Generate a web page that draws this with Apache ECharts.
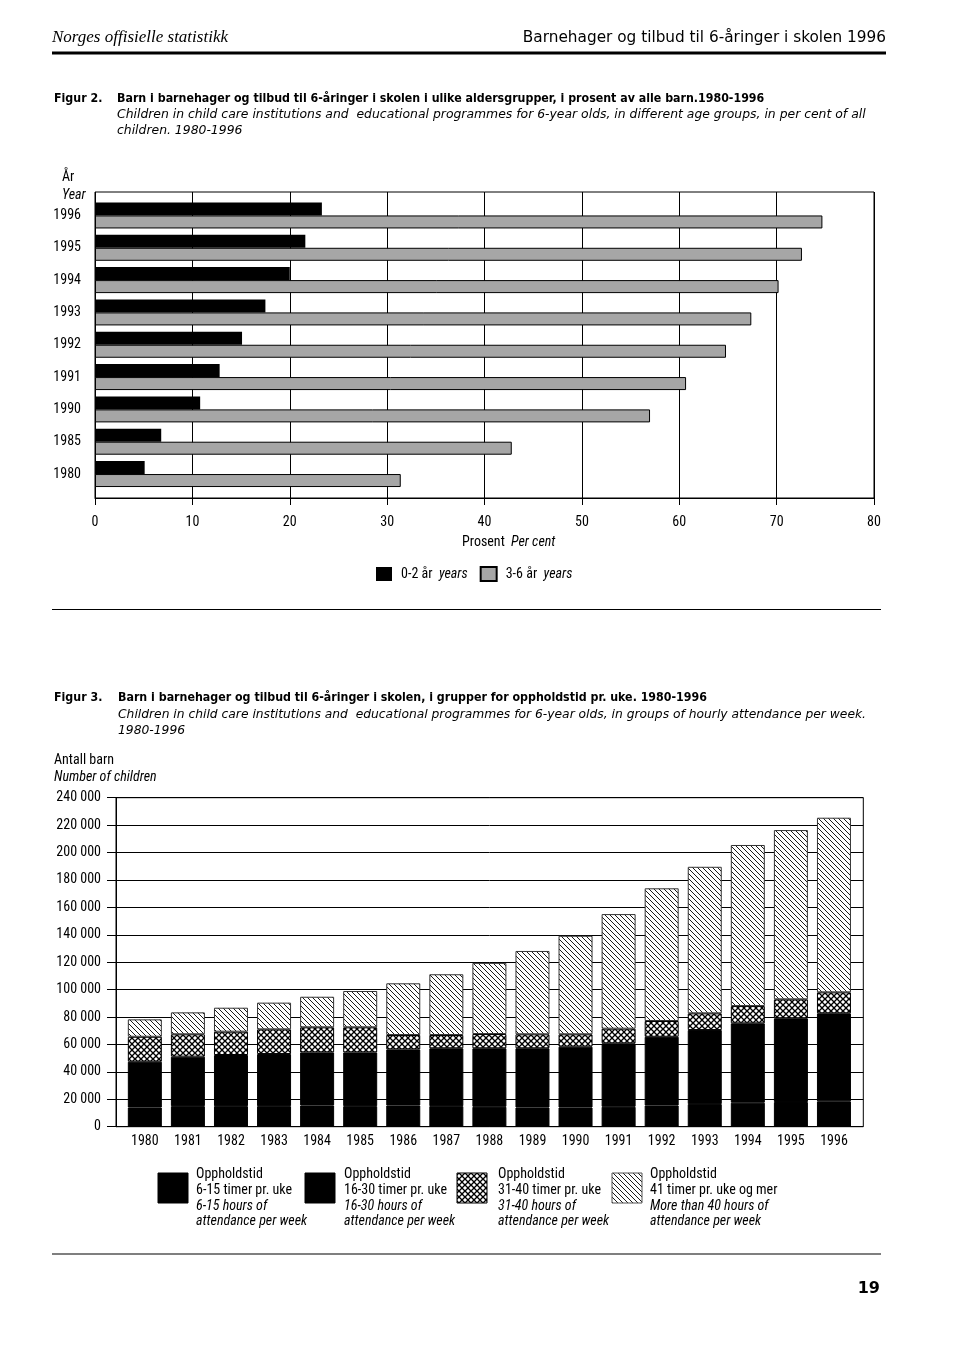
<!DOCTYPE html>
<html><head><meta charset="utf-8">
<script src="https://cdn.jsdelivr.net/npm/echarts@6/dist/echarts.min.js"></script>
<style>html,body{margin:0;padding:0;background:#fff}#c{width:960px;height:1357px}</style>
</head><body><div id="c"></div>
<script>
// ---- Figur 2 data ----
const fig2Years = ['1980', '1985', '1990', '1991', '1992', '1993', '1994', '1995', '1996'];
const fig2Age02 = [5.1, 6.8, 10.8, 12.8, 15.1, 17.5, 20.0, 21.6, 23.3];
const fig2Age36 = [31.4, 42.8, 57.0, 60.7, 64.8, 67.4, 70.2, 72.6, 74.7];
const fig2PctTicks = ['0', '10', '20', '30', '40', '50', '60', '70', '80'];

// ---- Figur 3 data ----
const fig3Years = ['1980','1981','1982','1983','1984','1985','1986','1987','1988','1989','1990','1991','1992','1993','1994','1995','1996'];
const fig3H6to15  = [14000,15000,15000,15000,15500,15000,15500,15000,14500,14000,14000,14500,15500,16500,17500,18000,18500];
const fig3H16to30 = [33400,36100,37300,38000,38700,39200,40900,42200,42700,43200,44400,46300,50100,54000,57900,61100,64200];
const fig3H31to40 = [18200,16300,17000,18000,18300,18300,10500,9700,10400,10200,9000,10700,11500,12200,12600,13800,15300];
const fig3H41plus = [12700,16000,17500,19500,22300,26500,37700,44300,51900,60800,71900,83600,96800,106900,117500,123500,127400];
const fig3CountTicks = ['0','20 000','40 000','60 000','80 000','100 000','120 000','140 000','160 000','180 000','200 000','220 000','240 000'];

const NARROW = "'Liberation Sans Narrow','Arial Narrow','Roboto Condensed',sans-serif";
const HUMAN = "'DejaVu Sans','Open Sans',sans-serif";
const COND = "'DejaVu Sans Condensed','DejaVu Sans',sans-serif";
const SERIF = "'Liberation Serif','DejaVu Serif',serif";

function hatchTile() {
  const s = 5, c = document.createElement('canvas'); c.width = s; c.height = s;
  const g = c.getContext('2d'); g.fillStyle = '#fff'; g.fillRect(0, 0, s, s);
  g.strokeStyle = '#1a1a1a'; g.lineWidth = 1;
  for (const o of [-s, 0, s]) { g.beginPath(); g.moveTo(o - 1, -1); g.lineTo(o + s + 1, s + 1); g.stroke(); }
  return c;
}
function crossTile() {
  const s = 6, c = document.createElement('canvas'); c.width = s; c.height = s;
  const g = c.getContext('2d'); g.fillStyle = '#fff'; g.fillRect(0, 0, s, s);
  g.strokeStyle = '#000'; g.lineWidth = 1.3;
  for (const o of [-s, 0, s]) {
    g.beginPath(); g.moveTo(o - 1, -1); g.lineTo(o + s + 1, s + 1); g.stroke();
    g.beginPath(); g.moveTo(o - 1, s + 1); g.lineTo(o + s + 1, -1); g.stroke();
  }
  return c;
}
const hatchFill = { image: hatchTile(), repeat: 'repeat' };
const crossFill = { image: crossTile(), repeat: 'repeat' };
const GRAY = '#a6a6a6';

function txt(text, x, y, font, align, extra) {
  return Object.assign({ type: 'text', silent: true, style: { text: text, x: x, y: y, font: font, fill: '#000', textAlign: align || 'left', textVerticalAlign: 'middle' } }, extra || {});
}
function hline(x1, x2, y, w) {
  return { type: 'line', silent: true, shape: { x1: x1, y1: y, x2: x2, y2: y }, style: { stroke: '#000', lineWidth: w } };
}

const legend3 = [
  { x: 158, tx: 196, fill: '#000', stroke: '#000', l2: '6-15 timer pr. uke', l3: '6-15 hours of', l4: 'attendance per week' },
  { x: 305, tx: 344, fill: '#000', stroke: '#000', l2: '16-30 timer pr. uke', l3: '16-30 hours of', l4: 'attendance per week' },
  { x: 457, tx: 498, fill: crossFill, stroke: '#000', l2: '31-40 timer pr. uke', l3: '31-40 hours of', l4: 'attendance per week' },
  { x: 612, tx: 650, fill: hatchFill, stroke: '#555', l2: '41 timer pr. uke og mer', l3: 'More than 40 hours of', l4: 'attendance per week' }
];

const graphics = [
  txt('Norges offisielle statistikk', 52, 38, 'italic 17px ' + SERIF),
  txt('Barnehager og tilbud til 6-åringer i skolen 1996', 886, 38, '15.3px ' + HUMAN, 'right'),
  hline(52, 886, 53, 3),
  txt('Figur 2.', 54, 99, 'bold 12.3px ' + COND),
  txt('Barn i barnehager og tilbud til 6-åringer i skolen i ulike aldersgrupper, i prosent av alle barn.1980-1996', 117, 99, 'bold 12.3px ' + COND),
  txt('Children in child care institutions and  educational programmes for 6-year olds, in different age groups, in per cent of all', 117, 115, 'italic 12.4px ' + HUMAN),
  txt('children. 1980-1996', 117, 131, 'italic 12.4px ' + HUMAN),
  txt('År', 62, 177, '14px ' + NARROW),
  txt('Year', 62, 195, 'italic 14px ' + NARROW),
  txt('Prosent', 462, 542, '14px ' + NARROW),
  txt('Per cent', 511, 542, 'italic 14px ' + NARROW),
  hline(52, 881, 609.5, 1.2),
  txt('Figur 3.', 54, 698, 'bold 12.3px ' + COND),
  txt('Barn i barnehager og tilbud til 6-åringer i skolen, i grupper for oppholdstid pr. uke. 1980-1996', 118, 698, 'bold 12.3px ' + COND),
  txt('Children in child care institutions and  educational programmes for 6-year olds, in groups of hourly attendance per week.', 118, 715, 'italic 12.3px ' + HUMAN),
  txt('1980-1996', 118, 731, 'italic 12.3px ' + HUMAN),
  txt('Antall barn', 54, 760, '14px ' + NARROW),
  txt('Number of children', 54, 777, 'italic 14px ' + NARROW),
  hline(52, 881, 1254, 1.2),
  txt('19', 880, 1289, 'bold 16px ' + HUMAN, 'right')
];
legend3.forEach(function (it) {
  graphics.push({ type: 'rect', silent: true, shape: { x: it.x, y: 1173, width: 30, height: 30 }, style: { fill: it.fill, stroke: it.stroke, lineWidth: 1 } });
  graphics.push(txt('Oppholdstid', it.tx, 1174, '14px ' + NARROW));
  graphics.push(txt(it.l2, it.tx, 1190, '14px ' + NARROW));
  graphics.push(txt(it.l3, it.tx, 1206, 'italic 14px ' + NARROW));
  graphics.push(txt(it.l4, it.tx, 1221, 'italic 14px ' + NARROW));
});

const black = { color: '#000' };
const blackStack = { color: '#000', borderColor: '#000', borderWidth: 1 };
const option = {
  animation: false,
  backgroundColor: '#fff',
  textStyle: { fontFamily: NARROW },
  grid: [
    { left: 95, top: 192, width: 779, height: 306, show: true, borderColor: '#000', borderWidth: 1 },
    { left: 95, top: 199.3, width: 779, height: 290.9 },
    { left: 116, top: 797.7, width: 747.3, height: 329, show: true, borderColor: '#000', borderWidth: 1 },
    { left: 123.3, top: 797.7, width: 732.2, height: 329 }
  ],
  xAxis: [
    { gridIndex: 0, type: 'value', min: 0, max: 80, interval: 10,
      axisLine: { show: true, lineStyle: { color: '#000' } },
      axisTick: { show: true, length: 7, lineStyle: { color: '#000' } },
      splitLine: { show: true, lineStyle: { color: '#000', width: 1 } },
      axisLabel: { margin: 17, color: '#000', fontFamily: NARROW, fontSize: 14, formatter: function (v) { return fig2PctTicks[Math.round(v / 10)]; } } },
    { gridIndex: 1, type: 'value', min: 0, max: 80, show: false },
    { gridIndex: 2, type: 'category', data: fig3Years, show: false },
    { gridIndex: 3, type: 'category', data: fig3Years,
      axisLine: { show: false }, axisTick: { show: false },
      axisLabel: { margin: 8, color: '#000', fontFamily: NARROW, fontSize: 14 } }
  ],
  yAxis: [
    { gridIndex: 0, type: 'value', min: 0, max: 1, show: false },
    { gridIndex: 1, type: 'category', data: fig2Years,
      axisLine: { show: false }, axisTick: { show: false },
      axisLabel: { margin: 14, color: '#000', fontFamily: NARROW, fontSize: 14 } },
    { gridIndex: 2, type: 'value', min: 0, max: 240000, interval: 20000,
      axisLine: { show: true, lineStyle: { color: '#000' } },
      axisTick: { show: true, length: 9, lineStyle: { color: '#000' } },
      splitLine: { show: true, lineStyle: { color: '#000', width: 1 } },
      axisLabel: { margin: 15, color: '#000', fontFamily: NARROW, fontSize: 14, formatter: function (v) { return fig3CountTicks[Math.round(v / 20000)]; } } },
    { gridIndex: 3, type: 'value', min: 0, max: 240000, show: false }
  ],
  legend: [{
    data: ['0-2 år', '3-6 år'], left: 376, top: 566, orient: 'horizontal', padding: 0,
    itemWidth: 16, itemHeight: 14, itemGap: 12, icon: 'rect',
    formatter: function (n) { return n + '  {i|years}'; },
    textStyle: { color: '#000', fontFamily: NARROW, fontSize: 14, padding: [0, 0, 0, 4],
      rich: { i: { fontStyle: 'italic', fontFamily: NARROW, fontSize: 14, color: '#000' } } }
  }],
  series: [
    { name: '0-2 år', type: 'bar', xAxisIndex: 1, yAxisIndex: 1, data: fig2Age02, barWidth: 13, barGap: '0%', itemStyle: black },
    { name: '3-6 år', type: 'bar', xAxisIndex: 1, yAxisIndex: 1, data: fig2Age36, barWidth: 13, barGap: '0%', itemStyle: { color: GRAY, borderColor: '#000', borderWidth: 1 } },
    { name: '6-15 timer', type: 'bar', stack: 'h', xAxisIndex: 3, yAxisIndex: 3, data: fig3H6to15, barWidth: 34, itemStyle: blackStack },
    { name: '16-30 timer', type: 'bar', stack: 'h', xAxisIndex: 3, yAxisIndex: 3, data: fig3H16to30, barWidth: 34, itemStyle: blackStack },
    { name: '31-40 timer', type: 'bar', stack: 'h', xAxisIndex: 3, yAxisIndex: 3, data: fig3H31to40, barWidth: 34, itemStyle: { color: crossFill, borderColor: '#000', borderWidth: 1 } },
    { name: '41 timer og mer', type: 'bar', stack: 'h', xAxisIndex: 3, yAxisIndex: 3, data: fig3H41plus, barWidth: 34, itemStyle: { color: hatchFill, borderColor: '#333', borderWidth: 1 } }
  ],
  graphic: graphics
};
const chart = echarts.init(document.getElementById('c'), null, { renderer: 'canvas' });
chart.setOption(option);
</script>
</body></html>
